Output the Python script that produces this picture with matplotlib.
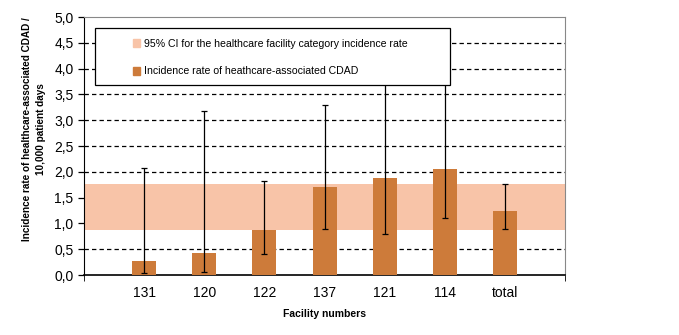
import numpy as np
import matplotlib
matplotlib.use('Agg')
import matplotlib.pyplot as plt
from matplotlib.patches import Patch, Rectangle

# data
facilities = ['131', '120', '122', '137', '121', '114', 'total']
rates = [0.28, 0.43, 0.87, 1.70, 1.88, 2.05, 1.24]
err_low = [0.03, 0.05, 0.40, 0.89, 0.79, 1.10, 0.89]
err_high = [2.07, 3.18, 1.83, 3.30, 4.20, 4.20, 1.76]
ci_band = (0.87, 1.76)

bar_color = '#CD7B3A'
band_color = '#F8C4A8'


def main() -> None:
    fig = plt.figure(figsize=(6.79, 3.35), dpi=100)
    ax = fig.add_axes([0.1237, 0.179, 0.7085, 0.770])

    x = np.arange(1, len(facilities) + 1)
    rates_a = np.array(rates)
    yerr = [rates_a - np.array(err_low), np.array(err_high) - rates_a]

    # grid lines first, then the CI band on top of them
    for y in np.arange(0.5, 5.0, 0.5):
        ax.axhline(y, color='black', lw=0.9, ls=(0, (3.5, 2.5)), zorder=1)
    ax.axhspan(ci_band[0], ci_band[1], color=band_color, lw=0, zorder=2)

    ax.bar(x, rates, width=0.4, color=bar_color, zorder=3)
    ax.errorbar(x, rates, yerr=yerr, fmt='none', ecolor='black',
                elinewidth=0.9, capsize=2.2, capthick=0.9, zorder=4)

    ax.set_xlim(0, 8)
    ax.set_ylim(0, 5)
    ax.set_xticks(x)
    ax.set_xticklabels(facilities, family='Liberation Sans', fontsize=10)
    ax.tick_params(axis='x', length=0, pad=8)
    ax.set_xticks([0, 8], minor=True)
    ax.tick_params(axis='x', which='minor', length=4, direction='out')

    yt = np.arange(0, 5.01, 0.5)
    ax.set_yticks(yt)
    ax.set_yticklabels([f'{v:.1f}'.replace('.', ',') for v in yt],
                       family='Liberation Sans', fontsize=10)
    ax.tick_params(axis='y', length=4, direction='out', width=0.9)

    for side in ['top', 'right']:
        ax.spines[side].set_color('#888888')
    ax.spines['left'].set_color('black')
    ax.spines['bottom'].set_color('black')
    ax.spines['bottom'].set_linewidth(1.2)

    ax.set_xlabel('Facility numbers', fontsize=7.5, fontweight='bold',
                  family='Liberation Sans')
    ax.xaxis.set_label_coords(0.5, -0.13)
    ax.set_ylabel('Incidence rate of healthcare-associated CDAD /\n10,000 patient days',
                  fontsize=7.2, fontweight='bold', family='Liberation Sans',
                  linespacing=1.5)
    ax.yaxis.set_label_coords(-0.08, 0.565)

    # legend box drawn as a rectangle, legend entries placed inside it
    frame = Rectangle((0.0229, 0.736), 0.738, 0.221, transform=ax.transAxes,
                      facecolor='white', edgecolor='black', lw=0.9, zorder=9)
    ax.add_patch(frame)
    handles = [Patch(color=band_color), Patch(color=bar_color)]
    labels = ['95% CI for the healthcare facility category incidence rate',
              'Incidence rate of heathcare-associated CDAD']
    leg = ax.legend(handles, labels, loc='upper left',
                    bbox_to_anchor=(0.101, 0.915), frameon=False,
                    prop={'family': 'Liberation Sans', 'size': 7.6},
                    handlelength=0.75, handleheight=0.75, handletextpad=0.35,
                    labelspacing=1.65, borderpad=0, borderaxespad=0)
    leg.set_zorder(10)

    fig.savefig('out.png', dpi=100)


if __name__ == '__main__':
    main()
